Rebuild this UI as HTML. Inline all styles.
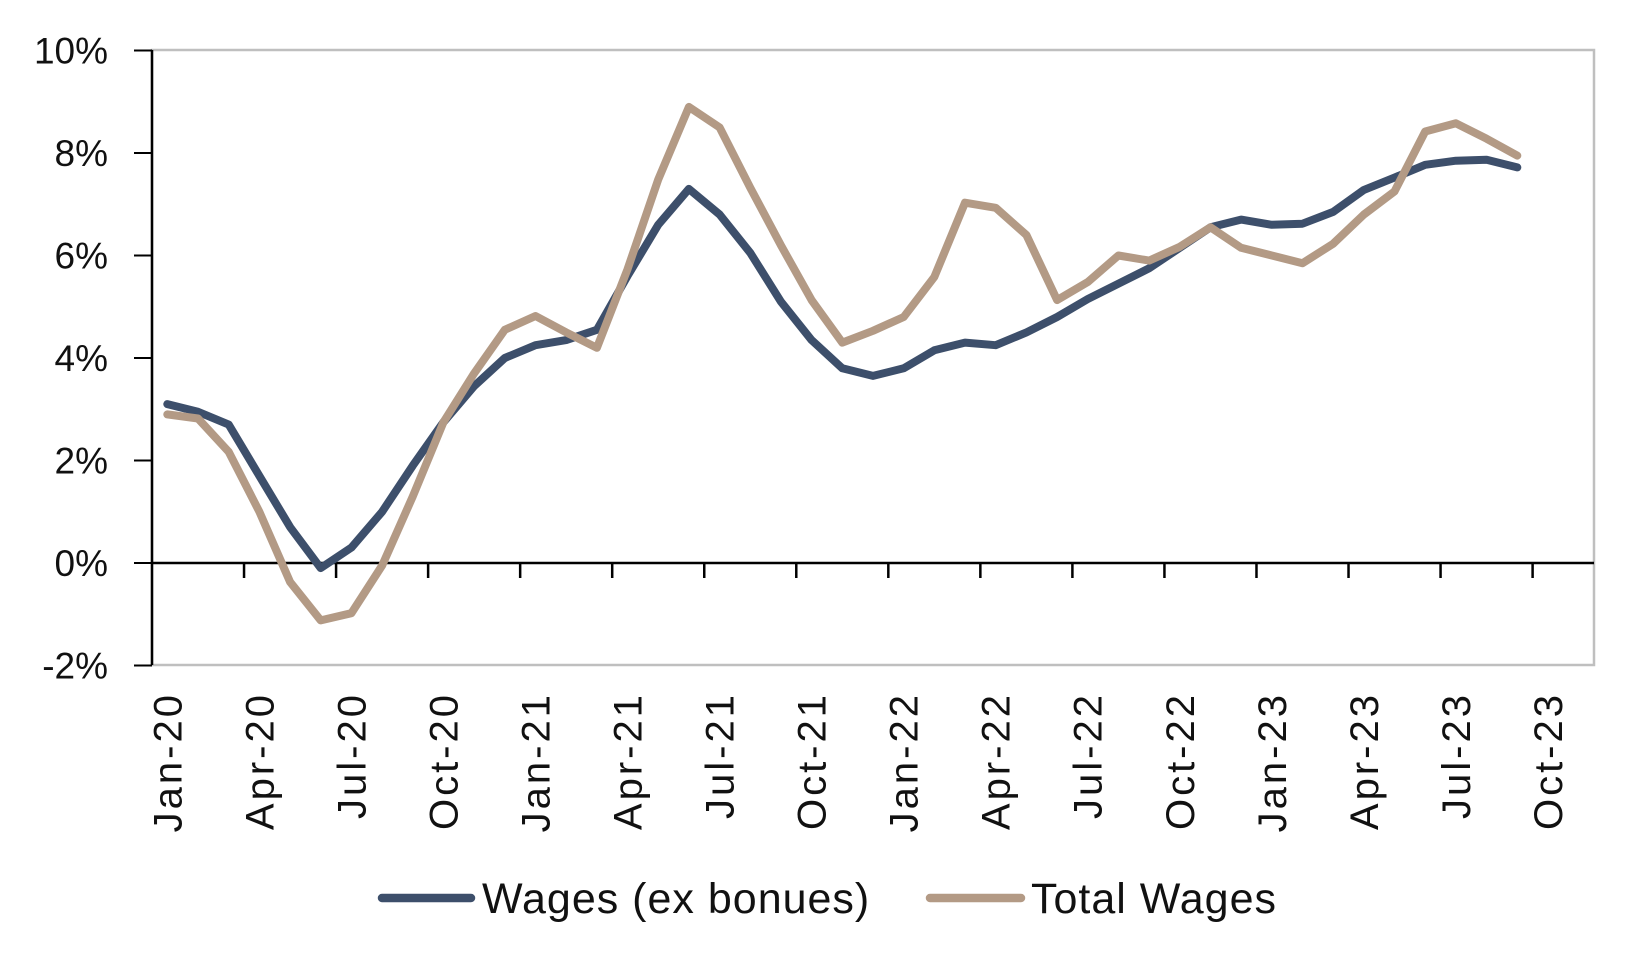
<!DOCTYPE html>
<html><head><meta charset="utf-8"><style>
html,body{margin:0;padding:0;background:#fff;}
svg{display:block;font-family:"Liberation Sans",sans-serif;}
</style></head><body>
<svg id="c" width="1645" height="970" viewBox="0 0 1645 970" xmlns="http://www.w3.org/2000/svg">
<rect x="152" y="50" width="1442" height="615" fill="none" stroke="#bfbfbf" stroke-width="2.5"/>
<g id="g"></g>
<text x="482" y="913" font-size="43" letter-spacing="1" fill="#111">Wages (ex bonues)</text>
<text x="1031" y="913" font-size="43" letter-spacing="1" fill="#111">Total Wages</text>
<line x1="382" y1="898" x2="471" y2="898" stroke="#3d4f6b" stroke-width="8.5" stroke-linecap="round"/>
<line x1="930" y1="898" x2="1021" y2="898" stroke="#b39a85" stroke-width="8.5" stroke-linecap="round"/>
</svg>
<script>
var L=152,R=1594,step=30.68,y0=563,per=51.25;
function X(i){return L+step*(i+0.5);}
function Y(v){return y0-v*per;}
var w=[3.1,2.95,2.7,1.7,0.7,-0.1,0.3,1.0,1.9,2.75,3.45,4.0,4.25,4.35,4.55,5.6,6.6,7.3,6.8,6.05,5.1,4.35,3.8,3.65,3.8,4.15,4.3,4.25,4.5,4.8,5.15,5.45,5.75,6.15,6.55,6.7,6.6,6.62,6.85,7.28,7.52,7.77,7.85,7.87,7.72];
var t=[2.9,2.82,2.17,1.0,-0.37,-1.12,-0.98,-0.05,1.3,2.75,3.7,4.55,4.82,4.5,4.2,5.73,7.48,8.9,8.5,7.32,6.2,5.13,4.3,4.53,4.8,5.58,7.03,6.93,6.4,5.13,5.48,6.0,5.9,6.17,6.55,6.15,6.0,5.85,6.23,6.8,7.25,8.42,8.58,8.28,7.95];
var s='';
for(var v=-2;v<=10;v+=2){var y=Y(v);
 s+='<line x1="134" y1="'+y+'" x2="152" y2="'+y+'" stroke="#000" stroke-width="2"/>';
 s+='<text x="108" y="'+(y+13)+'" font-size="37" text-anchor="end" fill="#111">'+v+'%</text>';}
s+='<line x1="152" y1="50" x2="152" y2="665" stroke="#000" stroke-width="2.5"/>';
s+='<line x1="152" y1="'+y0+'" x2="1594" y2="'+y0+'" stroke="#000" stroke-width="2.5"/>';
var labs=['Jan-20','Apr-20','Jul-20','Oct-20','Jan-21','Apr-21','Jul-21','Oct-21','Jan-22','Apr-22','Jul-22','Oct-22','Jan-23','Apr-23','Jul-23','Oct-23'];
for(var k=0;k<16;k++){var tx=L+step*3*k;
 if(k>0)s+='<line x1="'+tx+'" y1="'+y0+'" x2="'+tx+'" y2="'+(y0+15)+'" stroke="#000" stroke-width="2.5"/>';
 var cx=X(3*k)+14;
 s+='<text transform="translate('+cx+',692) rotate(-90)" font-size="40" letter-spacing="3" text-anchor="end" fill="#111">'+labs[k]+'</text>';}
function P(a,c){var p=a.map(function(v,i){return X(i).toFixed(1)+','+Y(v).toFixed(1);}).join(' ');
 return '<polyline points="'+p+'" fill="none" stroke="'+c+'" stroke-width="8" stroke-linejoin="round" stroke-linecap="round"/>';}
s+=P(w,'#3d4f6b')+P(t,'#b39a85');
document.getElementById('g').innerHTML=s;
</script>
</body></html>
